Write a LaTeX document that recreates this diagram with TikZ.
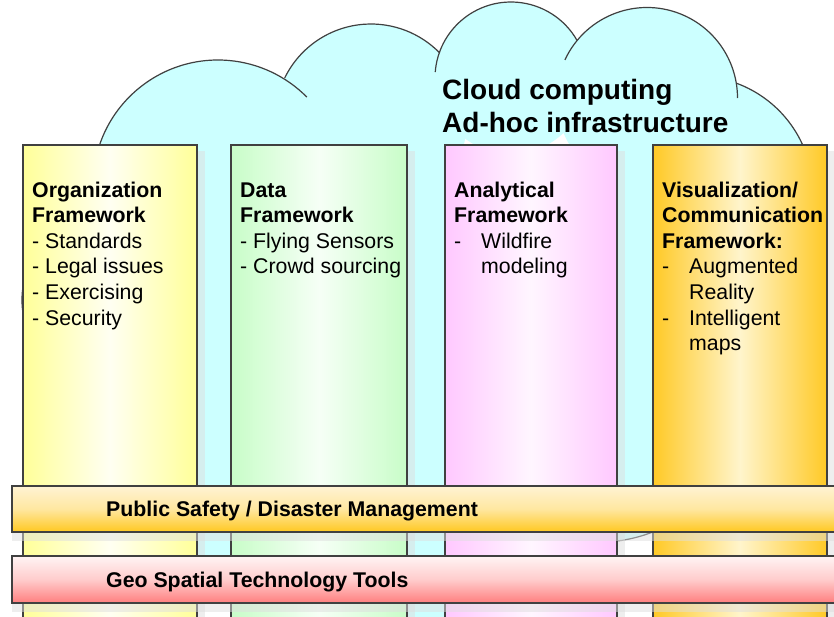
\documentclass[tikz,border=0pt]{standalone}
\usepackage{fontspec}
\setmainfont{Liberation Sans}
\definecolor{cloudc}{HTML}{CCFFFF}
\definecolor{edgec}{HTML}{404040}
\definecolor{yelE}{HTML}{FFFF99}
\definecolor{yelM}{HTML}{FFFFF2}
\definecolor{grnE}{HTML}{C8FDC8}
\definecolor{grnM}{HTML}{F6FFF6}
\definecolor{pnkE}{HTML}{FFC8FF}
\definecolor{pnkM}{HTML}{FFF6FF}
\definecolor{orgE}{HTML}{FFC926}
\definecolor{orgM}{HTML}{FFF5CC}
\definecolor{b1T}{HTML}{FFF3D4}
\definecolor{b1M}{HTML}{FFE7A0}
\definecolor{b1B}{HTML}{FFC820}
\definecolor{b2T}{HTML}{FFF4F4}
\definecolor{b2M}{HTML}{FFCCCC}
\definecolor{b2B}{HTML}{FF7E7E}
\definecolor{shadc}{HTML}{DEDEDE}
\begin{document}
\begin{tikzpicture}[x=1pt,y=1pt,
  cloudline/.style={draw=edgec,line width=1.2pt},
  pillar/.style={draw=edgec,line width=1.1pt},
  shad/.style={fill=shadc,fill opacity=0.5},
  bar/.style={draw=edgec,line width=1.1pt},
  ptxt/.style={anchor=base west,inner sep=0pt,font=\fontsize{21.3pt}{25pt}\selectfont},
  ctxt/.style={anchor=base west,inner sep=0pt,font=\fontsize{28pt}{32pt}\selectfont\bfseries},
  btxt/.style={anchor=base west,inner sep=0pt,font=\fontsize{21.3pt}{25pt}\selectfont\bfseries}]
\useasboundingbox (0,0) rectangle (834,-616);
\clip (0,0) rectangle (834,-616);
\fill[white] (0,0) rectangle (834,-616);
% cloud fill
\foreach \cx/\cy/\r in {110/300/88,218/185/125,371/120/96,511/78/76,647/98/90.5,696/193/117,430/470/150,600/398/144,300/420/180}
  \fill[cloudc] (\cx,-\cy) circle[radius=\r];
\fill[cloudc] (120,-150) rectangle (780,-480);
% cloud outline arcs
\draw[cloudline] (110,-300) ++(160:88) arc[start angle=160,end angle=200,radius=88];
\draw[cloudline] (218,-185) ++(175:125) arc[start angle=175,end angle=44.7,radius=125];
\draw[cloudline] (371,-120) ++(154:96) arc[start angle=154,end angle=44.2,radius=96];
\draw[cloudline] (511,-78) ++(175.5:76) arc[start angle=175.5,end angle=29.6,radius=76];
\draw[cloudline] (647,-98) ++(155.1:90.5) arc[start angle=155.1,end angle=0,radius=90.5];
\draw[cloudline] (696,-193) ++(69.6:117) arc[start angle=69.6,end angle=20,radius=117];
\draw[cloudline] (600,-398) ++(-100:144) arc[start angle=-100,end angle=-60,radius=144];
% cloud text
\node[ctxt] (cl1) at (442,-99) {Cloud computing};
\node[ctxt] (cl2) at (442,-132) {Ad-hoc infrastructure};
% pillar shadows
\foreach \a/\b in {23/197,231/407,445/617,653/827}
  \fill[shad] (\a+8,-151) rectangle (\b+8,-620);
% pillars
\draw[pillar,left color=yelE,right color=yelE,middle color=yelM] (23,-145) rectangle (197,-630);
\draw[pillar,left color=grnE,right color=grnE,middle color=grnM] (231,-145) rectangle (407,-630);
\draw[pillar,left color=pnkE,right color=pnkE,middle color=pnkM] (445,-145) rectangle (617,-630);
\draw[pillar,left color=orgE,right color=orgE,middle color=orgM] (653,-145) rectangle (827,-630);
% pillar texts
\foreach \t [count=\i from 0] in {{\textbf{Organization}},{\textbf{Framework}},{- Standards},{- Legal issues},{- Exercising},{- Security}}
  \node[ptxt] (org\i) at (32,{-197-25.65*\i}) {\t};
\foreach \t [count=\i from 0] in {{\textbf{Data}},{\textbf{Framework}},{- Flying Sensors},{- Crowd sourcing}}
  \node[ptxt] (dat\i) at (240,{-197-25.65*\i}) {\t};
\foreach \t [count=\i from 0] in {{\textbf{Analytical}},{\textbf{Framework}},{\makebox[27pt][l]{-}Wildfire},{\hspace*{27pt}modeling}}
  \node[ptxt] (ana\i) at (454,{-197-25.65*\i}) {\t};
\foreach \t [count=\i from 0] in {{\textbf{Visualization/}},{\textbf{Communication}},{\textbf{Framework:}},{\makebox[27pt][l]{-}Augmented},{\hspace*{27pt}Reality},{\makebox[27pt][l]{-}Intelligent},{\hspace*{27pt}maps}}
  \node[ptxt] (vis\i) at (662,{-197-25.65*\i}) {\t};
% bars
\fill[shad] (12,-532) rectangle (840,-541);
\draw[bar,top color=b1T,bottom color=b1B,middle color=b1M] (12,-486) rectangle (845,-532);
\node[btxt] (psdm) at (106,-516.5) {Public Safety / Disaster Management};
\fill[shad] (12,-603) rectangle (840,-612);
\draw[bar,top color=b2T,bottom color=b2B,middle color=b2M] (12,-556) rectangle (845,-603);
\node[btxt] (gstt) at (106,-587.5) {Geo Spatial Technology Tools};
\end{tikzpicture}
\end{document}
